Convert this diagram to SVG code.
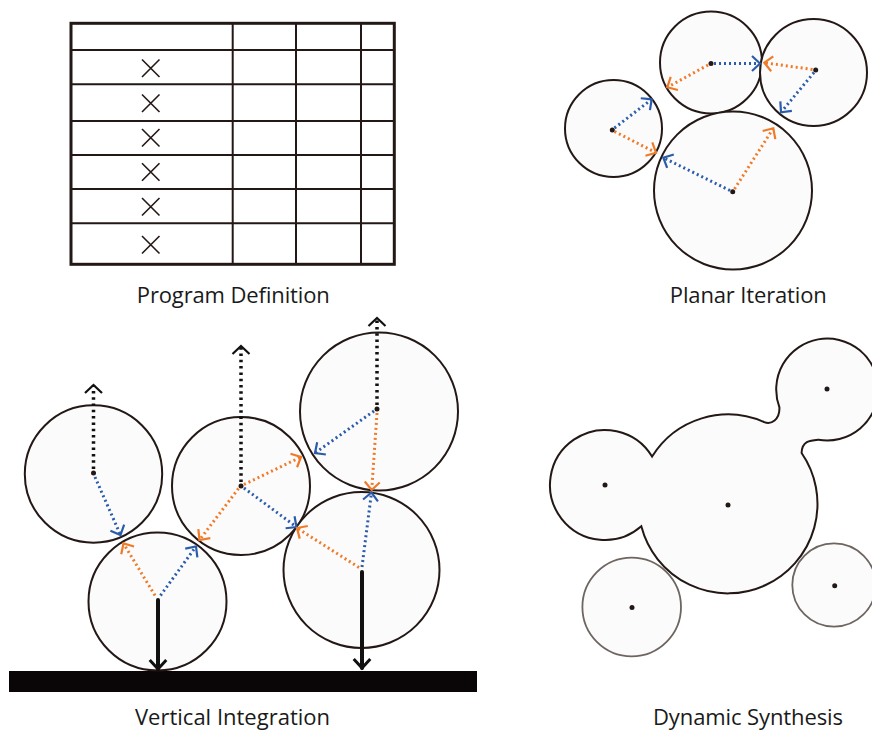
<svg xmlns="http://www.w3.org/2000/svg" width="872" height="731" viewBox="0 0 872 731">
<style>
.bg{fill:#ffffff}
.c{fill:#fbfbfb;stroke:#231815;stroke-width:2}
.cg{fill:#fbfbfb;stroke:#6e6560;stroke-width:1.8}
.dot{fill:#231815}
.tbl{fill:none;stroke:#231815;stroke-width:2}
.tblo{fill:none;stroke:#231815;stroke-width:3}
.x{stroke:#231815;stroke-width:1.6;fill:none}
.o{fill:none;stroke:#f07a27;stroke-width:3;stroke-dasharray:2 3;marker-end:url(#mo)}
.b{fill:none;stroke:#2b5cab;stroke-width:3;stroke-dasharray:2 3;marker-end:url(#mb)}
.k{fill:none;stroke:#111;stroke-width:3.5;stroke-dasharray:2.5 3.8;marker-end:url(#mk)}
.t{fill:none;stroke:#111;stroke-width:4;marker-end:url(#mt)}
.lbl{font-family:"Open Sans","Noto Sans",sans-serif;font-size:22px;fill:#1a1a1a;text-anchor:middle}
</style>
<defs>
<marker id="mo" markerUnits="userSpaceOnUse" orient="auto" refX="0" refY="0" overflow="visible" markerWidth="20" markerHeight="20"><path d="M-8,-7.5 L0,0 L-8,7.5" fill="none" stroke="#f07a27" stroke-width="2.2"/></marker>
<marker id="mb" markerUnits="userSpaceOnUse" orient="auto" refX="0" refY="0" overflow="visible" markerWidth="20" markerHeight="20"><path d="M-8,-7.5 L0,0 L-8,7.5" fill="none" stroke="#2b5cab" stroke-width="2.2"/></marker>
<marker id="mk" markerUnits="userSpaceOnUse" orient="auto" refX="0" refY="0" overflow="visible" markerWidth="20" markerHeight="20"><path d="M-8,-8.5 L0,0 L-8,8.5" fill="none" stroke="#111" stroke-width="2.2"/></marker>
<marker id="mt" markerUnits="userSpaceOnUse" orient="auto" refX="0" refY="0" overflow="visible" markerWidth="20" markerHeight="20"><path d="M-9,-8.3 L0,0 L-9,8.3" fill="none" stroke="#111" stroke-width="3"/></marker>
</defs>
<rect class="bg" x="0" y="0" width="872" height="731"/>

<!-- Program Definition -->
<g id="program-table">
<rect class="tblo" x="71" y="23.3" width="323.3" height="241"/>
<path class="tbl" d="M71,50 H394.3 M71,84.3 H394.3 M71,121 H394.3 M71,155 H394.3 M71,189 H394.3 M71,223.3 H394.3 M232.7,23.3 V264.3 M296,23.3 V264.3 M361,23.3 V264.3"/>
<path class="x" d="M142,59.5 L159.5,77 M159.5,59.5 L142,77 M142,94.5 L159.5,112 M159.5,94.5 L142,112 M142,129 L159.5,146.5 M159.5,129 L142,146.5 M142,163.3 L159.5,180.8 M159.5,163.3 L142,180.8 M142,198 L159.5,215.5 M159.5,198 L142,215.5 M142,236 L159.5,253.5 M159.5,236 L142,253.5"/>
</g>
<text class="lbl" x="233.3" y="302.5" textLength="193">Program Definition</text>

<!-- Planar Iteration -->
<g id="p-top"><circle class="c" cx="711" cy="62.5" r="51"/><circle class="dot" cx="711" cy="63.5" r="2.5"/></g>
<g id="p-right"><circle class="c" cx="813.5" cy="72.5" r="53.5"/><circle class="dot" cx="815.7" cy="70" r="2.5"/></g>
<g id="p-left"><circle class="c" cx="613.5" cy="128.5" r="48.5"/><circle class="dot" cx="612.3" cy="130" r="2.5"/></g>
<g id="p-big"><circle class="c" cx="733" cy="190.5" r="79"/><circle class="dot" cx="732.7" cy="191.7" r="2.5"/></g>
<g id="p-connectors">
<line class="b" x1="714" y1="63.5" x2="760" y2="63.5"/>
<line class="o" x1="708" y1="65" x2="667.3" y2="87.3"/>
<line class="o" x1="812.5" y1="69.5" x2="764.3" y2="62.7"/>
<line class="b" x1="814" y1="72.5" x2="781" y2="112.3"/>
<line class="b" x1="614.5" y1="128" x2="651.7" y2="99.3"/>
<line class="o" x1="614.5" y1="131.5" x2="656" y2="152.7"/>
<line class="b" x1="730" y1="190.5" x2="663.3" y2="157.7"/>
<line class="o" x1="734.5" y1="189" x2="773.3" y2="128.3"/>
</g>
<text class="lbl" x="748.3" y="302.5" textLength="157">Planar Iteration</text>

<!-- Vertical Integration -->
<rect id="ground" x="9" y="671" width="468" height="21" fill="#0a0506"/>
<g id="v1"><circle class="c" cx="93.5" cy="474" r="68.7"/><circle class="dot" cx="93.5" cy="473" r="2.5"/></g>
<g id="v2"><circle class="c" cx="241" cy="486" r="69"/><circle class="dot" cx="241" cy="486" r="2.5"/></g>
<g id="v3"><circle class="c" cx="379" cy="411.5" r="79"/><circle class="dot" cx="377" cy="409" r="2.5"/></g>
<g id="v4"><circle class="c" cx="361.5" cy="570" r="78"/></g>
<g id="v5"><circle class="c" cx="157.5" cy="601.5" r="69"/></g>
<g id="v-connectors">
<line class="k" x1="93.5" y1="469" x2="93.5" y2="385"/>
<line class="k" x1="241" y1="482" x2="241" y2="346"/>
<line class="k" x1="377" y1="405" x2="377" y2="318"/>
<line class="b" x1="95" y1="477" x2="120.5" y2="535"/>
<line class="o" x1="244" y1="484.5" x2="301" y2="457"/>
<line class="o" x1="238.5" y1="488.5" x2="199.5" y2="540"/>
<line class="b" x1="244" y1="488" x2="296.5" y2="527"/>
<line class="b" x1="374" y1="411" x2="315" y2="453"/>
<line class="o" x1="377" y1="413" x2="371.7" y2="490"/>
<line class="b" x1="362" y1="567" x2="371.5" y2="492.5"/>
<line class="o" x1="359" y1="567.5" x2="297" y2="528"/>
<line class="o" x1="155" y1="595.5" x2="123.5" y2="543.5"/>
<line class="b" x1="160.5" y1="595.5" x2="196" y2="546.5"/>
<line class="t" x1="158" y1="600" x2="158" y2="669" stroke-linecap="round"/>
<line class="t" x1="362" y1="572" x2="362" y2="668" stroke-linecap="round"/>
</g>
<text class="lbl" x="232.5" y="724.5" textLength="195">Vertical Integration</text>

<!-- Dynamic Synthesis -->
<g id="d-merged">
<path class="c" d="M652.08,456.59 A89.5,89.5 0 0 1 764.2,422.1 C771,425 780,420 779.4,407.3 A51,51 0 1 1 818.5,439.8 C810,440.5 802,441 801.6,453 A89.5,89.5 0 1 1 641.32,526.29 A55,55 0 1 1 652.08,456.59 Z"/>
<circle class="dot" cx="728" cy="505" r="2.5"/>
<circle class="dot" cx="605" cy="485" r="2.5"/>
<circle class="dot" cx="827" cy="389" r="2.5"/>
</g>
<g id="d-free-left"><circle class="cg" cx="631.7" cy="607" r="49.3"/><circle class="dot" cx="632" cy="607.5" r="2.5"/></g>
<g id="d-free-right"><circle class="cg" cx="834" cy="585" r="41.7"/><circle class="dot" cx="834.7" cy="585.7" r="2.5"/></g>
<text class="lbl" x="748" y="724.5" textLength="190">Dynamic Synthesis</text>
</svg>
